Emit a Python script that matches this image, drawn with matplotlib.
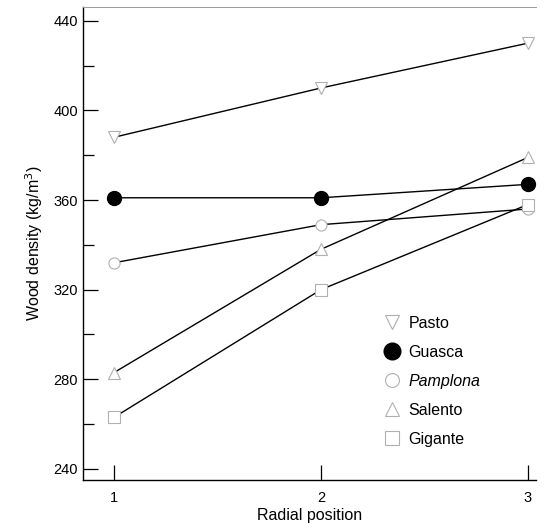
import numpy as np
import matplotlib.pyplot as plt

plt.rcParams['font.family'] = ['Liberation Sans', 'DejaVu Sans']

# 방사 위치별 목재 밀도
positions = [1, 2, 3]
pasto = [388, 410, 430]
guasca = [361, 361, 367]
pamplona = [332, 349, 356]
salento = [283, 338, 379]
gigante = [263, 320, 358]

names = ['Pasto', 'Guasca', 'Pamplona', 'Salento', 'Gigante']
series = [pasto, guasca, pamplona, salento, gigante]
markers = ['v', 'o', 'o', '^', 's']

fig = plt.figure(figsize=(5.46, 5.23), dpi=100)
ax = fig.add_axes([0.152, 0.082, 0.83, 0.904])

for name, vals, m in zip(names, series, markers):
    if name == 'Guasca':
        ax.plot(positions, vals, color='black', lw=1.0, marker=m, ms=10,
                mfc='black', mec='black', zorder=3)
    else:
        ax.plot(positions, vals, color='black', lw=1.0, zorder=2)
        ax.plot(positions, vals, ls='none', marker=m, ms=8, mfc='white',
                mec='#b0b0b0', mew=0.8, zorder=3)

ax.set_xlim(0.85, 3.04)
ax.set_ylim(235, 446)
ax.set_xticks([1, 2, 3])
ax.set_yticks([240, 280, 320, 360, 400, 440])
ax.set_yticks(np.arange(260, 440, 40), minor=True)
ax.tick_params(direction='in', length=11, width=0.9, labelsize=10.5)
ax.tick_params(which='minor', direction='in', length=8, width=0.9)
ax.tick_params(axis='x', pad=8)

ax.spines['right'].set_visible(False)
ax.spines['top'].set_color('#999999')
ax.spines['top'].set_linewidth(0.7)
ax.spines['left'].set_linewidth(1.0)
ax.spines['bottom'].set_linewidth(1.0)

ax.set_xlabel('Radial position', fontsize=11.5, labelpad=2)
ax.set_ylabel('Wood density (kg/m$^3$)', fontsize=11.5, labelpad=6)

# 범례
handles = []
for name, m in zip(names, markers):
    if name == 'Guasca':
        h, = ax.plot([], [], ls='none', marker=m, ms=12, mfc='black', mec='black')
    else:
        h, = ax.plot([], [], ls='none', marker=m, ms=10, mfc='white',
                     mec='#b0b0b0', mew=0.8)
    handles.append(h)
leg = ax.legend(handles, names, loc='lower left', bbox_to_anchor=(0.63, 0.04),
                frameon=False, fontsize=11.5, handletextpad=0.4,
                labelspacing=0.88, handlelength=1.2)
leg.get_texts()[2].set_style('italic')

fig.savefig('out.png', dpi=100)
